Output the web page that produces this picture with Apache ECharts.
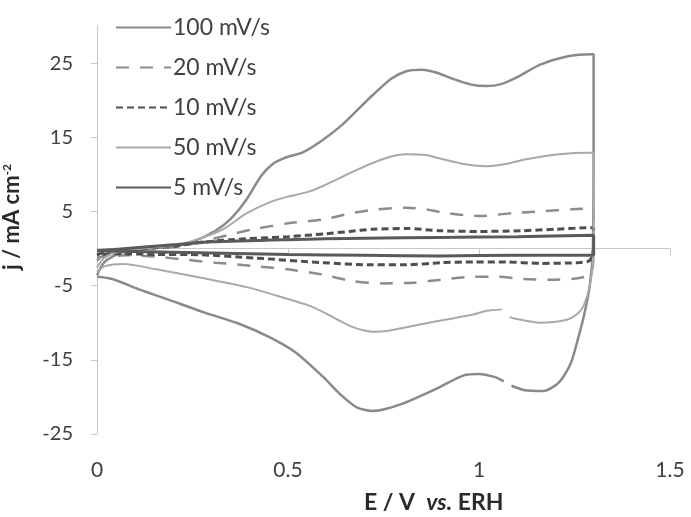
<!DOCTYPE html>
<html>
<head>
<meta charset="utf-8">
<script src="https://cdn.jsdelivr.net/npm/echarts@6/dist/echarts.min.js"></script>
<style>html,body{margin:0;padding:0;background:#fff}#c{width:691px;height:517px}</style>
</head>
<body>
<div id="c"></div>
<script>
// Tick labels
var xTicks = [0, 0.5, 1, 1.5];
var yTicks = [-25, -15, -5, 5, 15, 25];
var seriesNames = ['100 mV/s', '20 mV/s', '10 mV/s', '50 mV/s', '5 mV/s'];

// [E (V vs ERH), j (mA cm-2)] — anodic sweep then cathodic sweep; null marks a gap in the trace
var cv100 = [[0,-3.6],[0.02,-1.8],[0.06,-0.6],[0.12,-0.1],[0.2,0.3],[0.25,0.9],[0.31,2.4],[0.35,4.0],[0.39,6.5],[0.43,9.8],[0.46,11.4],[0.49,12.2],[0.54,13.0],[0.59,14.6],[0.64,16.6],[0.68,18.6],[0.72,20.6],[0.77,22.9],[0.81,23.9],[0.85,24.1],[0.89,23.7],[0.93,22.9],[0.98,22.1],[1.02,21.9],[1.06,22.2],[1.1,23.1],[1.16,24.8],[1.23,25.9],[1.295,26.2],[1.3,26.2],
  [1.3,15],[1.298,0],[1.29,-5],[1.275,-9],[1.26,-12],[1.24,-15.5],[1.21,-18],[1.17,-19.2],[1.12,-19.1],[1.085,-18.5],[1.075,null],[1.065,-17.9],[1.04,-17.3],[1.0,-16.9],[0.96,-17.1],[0.9,-18.6],[0.85,-19.8],[0.8,-20.9],[0.75,-21.7],[0.72,-21.9],[0.68,-21.4],[0.64,-19.8],[0.59,-17.2],[0.52,-14.0],[0.45,-11.9],[0.37,-10.1],[0.28,-8.6],[0.21,-7.3],[0.11,-5.5],[0.04,-4.1],[0,-3.8]];
var cv20 = [[0,-1.6],[0.03,-0.6],[0.1,-0.1],[0.2,0.2],[0.27,0.9],[0.35,1.9],[0.41,2.6],[0.5,3.4],[0.59,3.9],[0.66,4.7],[0.72,5.2],[0.81,5.5],[0.86,5.3],[0.9,4.9],[0.96,4.5],[1.01,4.4],[1.09,4.8],[1.16,5.0],[1.245,5.3],[1.3,5.4],
  [1.3,0],[1.295,-3],[1.27,-3.9],[1.2,-4.2],[1.115,-4.1],[1.05,-3.8],[0.985,-3.8],[0.9,-4.2],[0.83,-4.6],[0.75,-4.7],[0.67,-4.4],[0.59,-3.5],[0.5,-2.8],[0.42,-2.4],[0.31,-1.9],[0.23,-1.5],[0.155,-1.1],[0.08,-0.9],[0,-1.2]];
var cv10 = [[0,-0.8],[0.04,-0.3],[0.12,0],[0.2,0.3],[0.27,0.8],[0.35,1.2],[0.5,1.6],[0.6,2.0],[0.66,2.3],[0.72,2.6],[0.81,2.7],[0.9,2.4],[1.0,2.3],[1.11,2.4],[1.2,2.6],[1.28,2.8],[1.3,2.8],
  [1.3,0],[1.29,-1.6],[1.26,-1.9],[1.16,-2.0],[1.07,-1.8],[0.985,-1.8],[0.9,-1.9],[0.81,-2.2],[0.72,-2.2],[0.59,-1.9],[0.42,-1.3],[0.24,-0.8],[0.155,-0.8],[0.06,-0.7],[0,-0.8]];
var cv50 = [[0,-2.6],[0.02,-1.2],[0.06,-0.4],[0.12,0],[0.2,0.4],[0.26,1.2],[0.33,2.6],[0.39,4.7],[0.45,6.2],[0.5,7.0],[0.55,7.6],[0.59,8.4],[0.635,9.5],[0.68,10.6],[0.72,11.5],[0.77,12.4],[0.81,12.7],[0.86,12.6],[0.9,12.1],[0.96,11.4],[1.02,11.1],[1.07,11.4],[1.12,12.0],[1.21,12.7],[1.29,12.9],[1.3,12.9],
  [1.3,5],[1.298,-2],[1.29,-5],[1.275,-7.6],[1.26,-8.7],[1.23,-9.6],[1.16,-10.0],[1.09,-9.4],[1.08,-9.2],[1.07,null],[1.06,-8.2],[1.02,-8.4],[0.985,-8.9],[0.9,-9.7],[0.81,-10.6],[0.76,-11.1],[0.72,-11.2],[0.67,-10.6],[0.63,-9.6],[0.59,-8.5],[0.55,-7.6],[0.5,-6.8],[0.4,-5.3],[0.28,-4.0],[0.155,-2.8],[0.07,-2.1],[0.02,-2.4],[0,-3.2]];
var cv5 = [[0,-0.3],[0.1,0.1],[0.2,0.5],[0.3,0.9],[0.5,1.2],[0.7,1.4],[0.9,1.5],[1.1,1.6],[1.3,1.8],
  [1.3,-0.9],[1.1,-0.9],[0.9,-1.0],[0.7,-0.9],[0.5,-0.8],[0.3,-0.6],[0.1,-0.4],[0,-0.3]];

var FONT = 'Lato, "Open Sans", sans-serif';
var chart = echarts.init(document.getElementById('c'), null, {renderer: 'canvas'});

function line(name, data, color, width, type) {
  return {
    name: name, type: 'line', data: data, smooth: 0.25, symbol: 'none', showSymbol: false,
    connectNulls: false, animation: false, silent: true,
    lineStyle: {color: color, width: width, type: type},
    itemStyle: {color: color}
  };
}

chart.setOption({
  animation: false,
  backgroundColor: '#ffffff',
  textStyle: {fontFamily: FONT},
  grid: {left: 97, right: 21, top: 26, bottom: 83, containLabel: false},
  legend: {
    orient: 'vertical', left: 110, top: 11, itemWidth: 55, itemHeight: 20, itemGap: 17,
    data: seriesNames,
    itemStyle: {opacity: 0},
    textStyle: {fontFamily: FONT, fontSize: 23, color: '#404040', padding: [0, 0, 0, -3]},
    selectedMode: false
  },
  xAxis: [{
    type: 'value', min: 0, max: 1.5, interval: 0.5,
    axisLine: {show: true, onZero: true, lineStyle: {color: '#c8c8c8', width: 1}},
    axisTick: {show: true, inside: false, length: 7, customValues: xTicks, lineStyle: {color: '#c8c8c8'}},
    axisLabel: {show: false},
    splitLine: {show: false}
  }, {
    type: 'value', min: 0, max: 1.5, interval: 0.5, position: 'bottom',
    axisLine: {show: false, onZero: false}, axisTick: {show: false},
    axisLabel: {show: true, customValues: xTicks, margin: 26, fontFamily: FONT, fontSize: 21, color: '#404040'},
    splitLine: {show: false}
  }],
  yAxis: {
    type: 'value', min: -25, max: 30, interval: 10,
    axisLine: {show: true, onZero: false, lineStyle: {color: '#c8c8c8', width: 1}},
    axisTick: {show: true, length: 6, customValues: yTicks, lineStyle: {color: '#c8c8c8'}},
    axisLabel: {customValues: yTicks, margin: 24, fontFamily: FONT, fontSize: 20, color: '#404040'},
    splitLine: {show: false}
  },
  title: {
    text: '{a|E / V  }{b|vs.}{a| ERH}',
    left: 359, top: 486,
    textStyle: {rich: {
      a: {fontFamily: FONT, fontSize: 23, fontWeight: 'bold', color: '#2a2a2a'},
      b: {fontFamily: FONT, fontSize: 23, fontWeight: 'bold', fontStyle: 'italic', color: '#2a2a2a'}
    }}
  },
  graphic: [{
    type: 'text', x: 12, y: 217, rotation: Math.PI / 2,
    style: {
      text: '{a|j / mA cm}{s|-2}',
      align: 'center', verticalAlign: 'middle',
      rich: {
        a: {fontFamily: FONT, fontSize: 22, fontWeight: 'bold', fill: '#2a2a2a'},
        s: {fontFamily: FONT, fontSize: 12, fontWeight: 'bold', fill: '#2a2a2a', verticalAlign: 'top', padding: [0, 0, 9, 0]}
      }
    }
  }],
  series: [
    line('100 mV/s', cv100, '#8a8a8a', 2.5, 'solid'),
    line('20 mV/s', cv20, '#8c8c8c', 2.5, [13, 11]),
    line('10 mV/s', cv10, '#4e4e4e', 3, [7, 4]),
    line('50 mV/s', cv50, '#a9a9a9', 2, 'solid'),
    line('5 mV/s', cv5, '#5a5a5a', 3, 'solid')
  ]
});
</script>
</body>
</html>
